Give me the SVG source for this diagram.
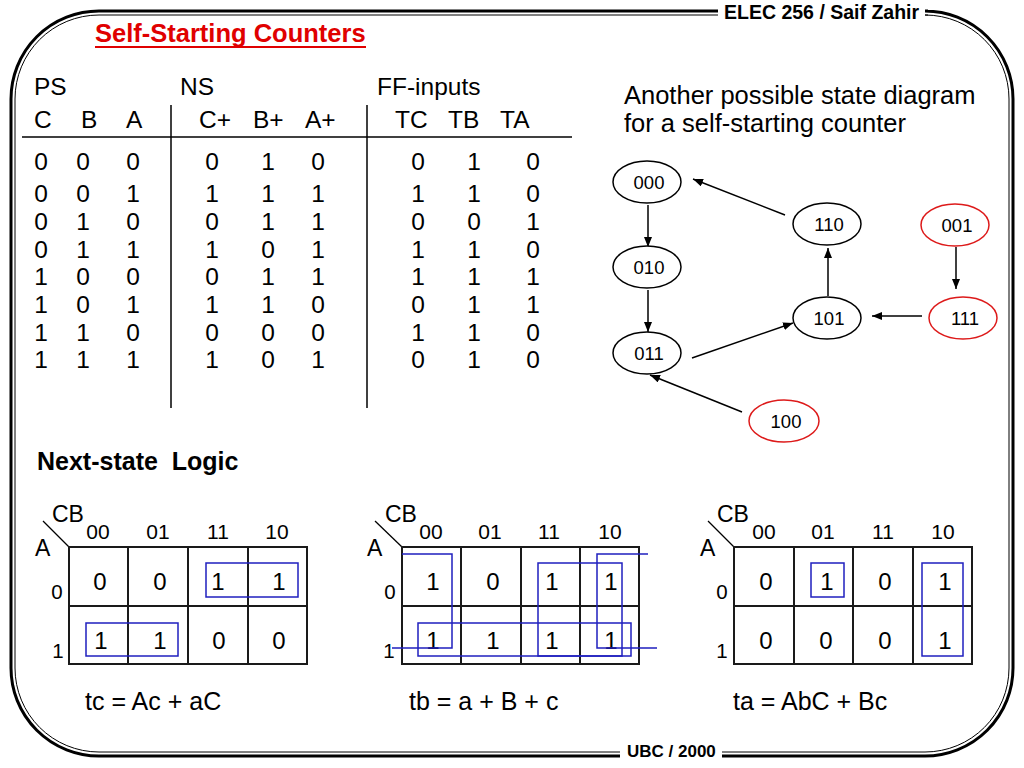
<svg xmlns="http://www.w3.org/2000/svg" width="1024" height="768" viewBox="0 0 1024 768">
<defs>
<style>
text{font-family:"Liberation Sans",Arial,sans-serif;fill:#000}
.frameO{fill:none;stroke:#000;stroke-width:3}
.frameI{fill:none;stroke:#000;stroke-width:1}
.hdr{font-weight:bold;font-size:19.5px}
.ftr{font-weight:bold;font-size:17px}
.title{font-weight:bold;font-size:25.5px;fill:#e00000}
.t24{font-size:24.5px}
.t25{font-size:25.5px}
.eq{font-size:25px}
.num{font-size:24.5px;text-anchor:middle}
.rule{stroke:#000;stroke-width:1.5;fill:none}
.st{fill:#fff;stroke:#000;stroke-width:1.5}
.st.red{stroke:#dd1a1a}
.stl{font-size:18.5px;text-anchor:middle}
.conn{stroke:#000;stroke-width:1.5;fill:none;marker-end:url(#ah)}
.cell{fill:#fff;stroke:#1a1a1a;stroke-width:2}
.grp{fill:none;stroke:#1f1fbf;stroke-width:1.5}
.cb{font-size:23px}
.col{font-size:21px;text-anchor:middle}
.rowl{font-size:20.5px;text-anchor:middle}
.val{font-size:24px;text-anchor:middle}
.diag{stroke:#000;stroke-width:1.3}
</style>
<marker id="ah" viewBox="0 0 10 8" refX="10" refY="4" markerWidth="10" markerHeight="8" markerUnits="userSpaceOnUse" orient="auto">
<path d="M0,0 L10,4 L0,8 z" fill="#000"/>
</marker>
</defs>
<rect width="1024" height="768" fill="#fff"/>

<g id="frame">
<path class="frameO" d="M718 11 H99 A88 88 0 0 0 11 99 V668 A88 88 0 0 0 99 756 H620"/>
<path class="frameO" d="M722 756 H925 A88 88 0 0 0 1013 668 V99 A88 88 0 0 0 925 11 H928"/>
<path class="frameI" d="M718 15 H99 A84 84 0 0 0 15 99 V668 A84 84 0 0 0 99 752 H620"/>
<path class="frameI" d="M722 752 H925 A84 84 0 0 0 1009 668 V99 A84 84 0 0 0 925 15 H928"/>
<text class="hdr" x="724" y="19">ELEC 256 / Saif Zahir</text>
<text class="ftr" x="627" y="757">UBC / 2000</text>
</g>

<g id="title">
<text class="title" x="95" y="42">Self-Starting Counters</text>
<line x1="95" y1="47" x2="366" y2="47" stroke="#e00000" stroke-width="2"/>
</g>

<g id="table">
<text class="t24" x="34" y="95">PS</text>
<text class="t24" x="180" y="95">NS</text>
<text class="t24" x="377" y="95">FF-inputs</text>
<text class="t24" x="34" y="128">C</text>
<text class="t24" x="81" y="128">B</text>
<text class="t24" x="126" y="128">A</text>
<text class="t24" x="199" y="128">C+</text>
<text class="t24" x="253" y="128">B+</text>
<text class="t24" x="305" y="128">A+</text>
<text class="t24" x="395" y="128">TC</text>
<text class="t24" x="448" y="128">TB</text>
<text class="t24" x="500" y="128">TA</text>
<line class="rule" x1="22" y1="137" x2="572" y2="137"/>
<line class="rule" x1="171" y1="105" x2="171" y2="408"/>
<line class="rule" x1="367" y1="105" x2="367" y2="408"/>
<g class="num">
<text x="41" y="170">0</text><text x="83" y="170">0</text><text x="133" y="170">0</text><text x="212" y="170">0</text><text x="268" y="170">1</text><text x="318" y="170">0</text><text x="418" y="170">0</text><text x="474" y="170">1</text><text x="533" y="170">0</text>
<text x="41" y="202">0</text><text x="83" y="202">0</text><text x="133" y="202">1</text><text x="212" y="202">1</text><text x="268" y="202">1</text><text x="318" y="202">1</text><text x="418" y="202">1</text><text x="474" y="202">1</text><text x="533" y="202">0</text>
<text x="41" y="230">0</text><text x="83" y="230">1</text><text x="133" y="230">0</text><text x="212" y="230">0</text><text x="268" y="230">1</text><text x="318" y="230">1</text><text x="418" y="230">0</text><text x="474" y="230">0</text><text x="533" y="230">1</text>
<text x="41" y="258">0</text><text x="83" y="258">1</text><text x="133" y="258">1</text><text x="212" y="258">1</text><text x="268" y="258">0</text><text x="318" y="258">1</text><text x="418" y="258">1</text><text x="474" y="258">1</text><text x="533" y="258">0</text>
<text x="41" y="285">1</text><text x="83" y="285">0</text><text x="133" y="285">0</text><text x="212" y="285">0</text><text x="268" y="285">1</text><text x="318" y="285">1</text><text x="418" y="285">1</text><text x="474" y="285">1</text><text x="533" y="285">1</text>
<text x="41" y="313">1</text><text x="83" y="313">0</text><text x="133" y="313">1</text><text x="212" y="313">1</text><text x="268" y="313">1</text><text x="318" y="313">0</text><text x="418" y="313">0</text><text x="474" y="313">1</text><text x="533" y="313">1</text>
<text x="41" y="341">1</text><text x="83" y="341">1</text><text x="133" y="341">0</text><text x="212" y="341">0</text><text x="268" y="341">0</text><text x="318" y="341">0</text><text x="418" y="341">1</text><text x="474" y="341">1</text><text x="533" y="341">0</text>
<text x="41" y="368">1</text><text x="83" y="368">1</text><text x="133" y="368">1</text><text x="212" y="368">1</text><text x="268" y="368">0</text><text x="318" y="368">1</text><text x="418" y="368">0</text><text x="474" y="368">1</text><text x="533" y="368">0</text>
</g>
</g>

<g id="sd-caption">
<text class="t25" x="624" y="104">Another possible state diagram</text>
<text class="t25" x="624" y="132">for a self-starting counter</text>
</g>

<g id="connectors">
<line class="conn" x1="648" y1="205" x2="648" y2="247"/>
<line class="conn" x1="648" y1="290" x2="648" y2="332"/>
<line class="conn" x1="692" y1="358" x2="793" y2="323"/>
<line class="conn" x1="828" y1="296" x2="828" y2="248"/>
<line class="conn" x1="785" y1="215" x2="693" y2="179"/>
<line class="conn" x1="956" y1="247" x2="956" y2="289"/>
<line class="conn" x1="922" y1="316" x2="872" y2="316"/>
<line class="conn" x1="742" y1="412" x2="650" y2="375"/>
</g>

<g id="s000"><ellipse class="st" cx="647" cy="182" rx="34" ry="21"/><text class="stl" x="649" y="189">000</text></g>
<g id="s010"><ellipse class="st" cx="647" cy="267" rx="34" ry="21"/><text class="stl" x="649" y="274">010</text></g>
<g id="s011"><ellipse class="st" cx="647" cy="353" rx="34" ry="21"/><text class="stl" x="649" y="360">011</text></g>
<g id="s110"><ellipse class="st" cx="827" cy="224" rx="34" ry="21"/><text class="stl" x="829" y="231">110</text></g>
<g id="s101"><ellipse class="st" cx="827" cy="318" rx="34" ry="21"/><text class="stl" x="829" y="325">101</text></g>
<g id="s001"><ellipse class="st red" cx="955" cy="225" rx="34" ry="21"/><text class="stl" x="957" y="232">001</text></g>
<g id="s111"><ellipse class="st red" cx="963" cy="318" rx="34" ry="21"/><text class="stl" x="965" y="325">111</text></g>
<g id="s100"><ellipse class="st red" cx="784" cy="421" rx="35" ry="21"/><text class="stl" x="786" y="428">100</text></g>

<g id="nsl-heading">
<text x="37" y="470" style="font-size:25px;font-weight:bold;white-space:pre" xml:space="preserve">Next-state  Logic</text>
</g>

<g id="kmap-tc">
<line class="diag" x1="43" y1="521" x2="69" y2="547"/>
<text class="cb" x="52" y="522">CB</text>
<text class="cb" x="35" y="556">A</text>
<text class="col" x="98" y="539">00</text><text class="col" x="158" y="539">01</text><text class="col" x="218" y="539">11</text><text class="col" x="277" y="539">10</text>
<text class="rowl" x="57" y="599">0</text><text class="rowl" x="58" y="658">1</text>
<rect class="cell" x="69" y="547" width="59" height="59"/><rect class="cell" x="128" y="547" width="60" height="59"/><rect class="cell" x="188" y="547" width="60" height="59"/><rect class="cell" x="248" y="547" width="59" height="59"/>
<rect class="cell" x="69" y="606" width="59" height="58"/><rect class="cell" x="128" y="606" width="60" height="58"/><rect class="cell" x="188" y="606" width="60" height="58"/><rect class="cell" x="248" y="606" width="59" height="58"/>
<text class="val" x="100" y="590">0</text><text class="val" x="160" y="590">0</text><text class="val" x="218" y="590">1</text><text class="val" x="279" y="590">1</text>
<text class="val" x="101" y="649">1</text><text class="val" x="160" y="649">1</text><text class="val" x="219" y="649">0</text><text class="val" x="279" y="649">0</text>
<rect class="grp" x="206" y="563" width="92" height="34"/>
<rect class="grp" x="86" y="623" width="92" height="33"/>
<text class="eq" x="85" y="710">tc = Ac + aC</text>
</g>

<g id="kmap-tb">
<line class="diag" x1="375" y1="521" x2="402" y2="547"/>
<text class="cb" x="385" y="522">CB</text>
<text class="cb" x="367" y="556">A</text>
<text class="col" x="431" y="539">00</text><text class="col" x="490" y="539">01</text><text class="col" x="549" y="539">11</text><text class="col" x="610" y="539">10</text>
<text class="rowl" x="390" y="599">0</text><text class="rowl" x="389" y="658">1</text>
<rect class="cell" x="402" y="547" width="59" height="59"/><rect class="cell" x="461" y="547" width="60" height="59"/><rect class="cell" x="521" y="547" width="59" height="59"/><rect class="cell" x="580" y="547" width="59" height="59"/>
<rect class="cell" x="402" y="606" width="59" height="58"/><rect class="cell" x="461" y="606" width="60" height="58"/><rect class="cell" x="521" y="606" width="59" height="58"/><rect class="cell" x="580" y="606" width="59" height="58"/>
<text class="val" x="433" y="590">1</text><text class="val" x="493" y="590">0</text><text class="val" x="552" y="590">1</text><text class="val" x="611" y="590">1</text>
<text class="val" x="433" y="649">1</text><text class="val" x="493" y="649">1</text><text class="val" x="552" y="649">1</text><text class="val" x="611" y="649">1</text>
<path class="grp" d="M402 554 H452 V648 H392"/>
<path class="grp" d="M648 554 H597 V648 H657"/>
<rect class="grp" x="538" y="563" width="84" height="93"/>
<rect class="grp" x="418" y="623" width="213" height="33"/>
<text class="eq" x="409" y="710">tb = a + B + c</text>
</g>

<g id="kmap-ta">
<line class="diag" x1="708" y1="521" x2="734" y2="547"/>
<text class="cb" x="717" y="522">CB</text>
<text class="cb" x="700" y="556">A</text>
<text class="col" x="764" y="539">00</text><text class="col" x="823" y="539">01</text><text class="col" x="883" y="539">11</text><text class="col" x="943" y="539">10</text>
<text class="rowl" x="722" y="599">0</text><text class="rowl" x="722" y="658">1</text>
<rect class="cell" x="734" y="547" width="60" height="59"/><rect class="cell" x="794" y="547" width="59" height="59"/><rect class="cell" x="853" y="547" width="60" height="59"/><rect class="cell" x="913" y="547" width="59" height="59"/>
<rect class="cell" x="734" y="606" width="60" height="58"/><rect class="cell" x="794" y="606" width="59" height="58"/><rect class="cell" x="853" y="606" width="60" height="58"/><rect class="cell" x="913" y="606" width="59" height="58"/>
<text class="val" x="766" y="590">0</text><text class="val" x="827" y="590">1</text><text class="val" x="885" y="590">0</text><text class="val" x="945" y="590">1</text>
<text class="val" x="766" y="649">0</text><text class="val" x="826" y="649">0</text><text class="val" x="885" y="649">0</text><text class="val" x="945" y="649">1</text>
<rect class="grp" x="811" y="563" width="33" height="34"/>
<rect class="grp" x="922" y="563" width="41" height="93"/>
<text class="eq" x="733" y="710">ta = AbC + Bc</text>
</g>
</svg>
